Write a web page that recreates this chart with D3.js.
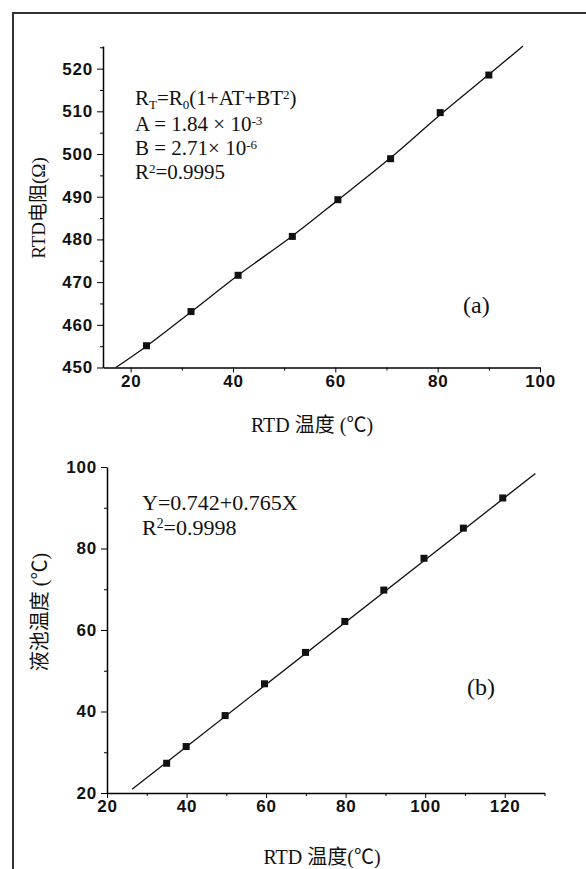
<!DOCTYPE html>
<html>
<head>
<meta charset="utf-8">
<script src="https://cdn.jsdelivr.net/npm/d3@7"></script>
<style>
  body { margin: 0; background: #fff; }
  .tickLbl text { font-family: "Liberation Sans", Arial, sans-serif; font-weight: bold; font-size: 17px; letter-spacing: 0.8px; fill: #111; }
  .serif { font-family: "Liberation Serif", "Times New Roman", "Noto Sans CJK SC", serif; fill: #111; }
</style>
</head>
<body>
<div id="chart"></div>
<script>

// ---- chart (a): RTD resistance vs RTD temperature
var rtdTempA = [23.1, 31.8, 41.0, 51.6, 60.5, 70.8, 80.5, 90.0];
var rtdResA  = [455.1, 463.1, 471.6, 480.7, 489.3, 498.9, 509.7, 518.5];
// fitted curve (slightly bent, quadratic fit)
var fitTempA = [17.1, 23.1, 31.8, 41.0, 51.6, 60.5, 70.8, 80.5, 90.0, 96.7];
var fitResA  = [450, 455.0, 463.0, 471.6, 480.8, 489.2, 499.1, 509.2, 518.6, 525.3];
var xTicksA = [20, 40, 60, 80, 100];
var yTicksA = [450, 460, 470, 480, 490, 500, 510, 520];

// ---- chart (b): bath temperature vs RTD temperature
var rtdTempB  = [35.0, 39.9, 49.7, 59.6, 69.9, 79.8, 89.6, 99.7, 109.6, 119.5];
var bathTempB = [27.3, 31.4, 39.0, 46.8, 54.5, 62.1, 69.8, 77.6, 85.0, 92.4];
var fitTempB  = [26.3, 127.7];
var fitBathB  = [20.9, 98.4];
var xTicksB = [20, 40, 60, 80, 100, 120];
var yTicksB = [20, 40, 60, 80, 100];

var svgWidth = 586;
var svgHeight = 869;

var svg = d3.select("#chart")
    .append("svg")
    .attr("width", svgWidth)
    .attr("height", svgHeight);

// scanned page frame
svg.append("path")
    .attr("d", "M13,875 L13,13 L590,13")
    .attr("fill", "none")
    .attr("stroke", "#333")
    .attr("stroke-width", 2);

// text with sub / superscripts, segs = [[text, "sub"|"sup"|null], ...]
function richText(x, y, segs, size) {
    var t = svg.append("text")
        .attr("class", "serif")
        .attr("x", x)
        .attr("y", y)
        .attr("font-size", size + "px");
    var shift = 0;
    segs.forEach(function(s) {
        var target = s[1] == "sub" ? size * 0.2 : (s[1] == "sup" ? -size * 0.3 : 0);
        t.append("tspan")
            .attr("dy", target - shift)
            .attr("font-size", s[1] ? (size * 0.62) + "px" : size + "px")
            .text(s[0]);
        shift = target;
    });
    return t;
}

function makePlot(xdata, ydata, fitX, fitY, xDom, yDom, xRange, yRange, xTicks, yTicks, xMinor, yMinor) {

    var xScale = d3.scaleLinear().domain(xDom).range(xRange);
    var yScale = d3.scaleLinear().domain(yDom).range(yRange);

    // minor ticks first (no labels)
    svg.append("g")
        .attr("transform", `translate(0, ${yRange[0]})`)
        .call(d3.axisBottom(xScale).tickValues(xMinor).tickSize(3).tickFormat(""))
        .call(g => g.select(".domain").remove());
    svg.append("g")
        .attr("transform", `translate(${xRange[0]}, 0)`)
        .call(d3.axisLeft(yScale).tickValues(yMinor).tickSize(3).tickFormat(""))
        .call(g => g.select(".domain").remove());

    // main axes
    svg.append("g")
        .attr("class", "tickLbl")
        .attr("transform", `translate(0, ${yRange[0]})`)
        .call(d3.axisBottom(xScale).tickValues(xTicks).tickSize(5).tickSizeOuter(0).tickPadding(2));
    svg.append("g")
        .attr("class", "tickLbl")
        .attr("transform", `translate(${xRange[0]}, 0)`)
        .call(d3.axisLeft(yScale).tickValues(yTicks).tickSize(6).tickSizeOuter(0).tickPadding(4));

    svg.selectAll(".domain").attr("stroke-width", 1.5);

    // fitted line
    var line = d3.line()
        .curve(d3.curveMonotoneX)
        .x(d => xScale(d[0]))
        .y(d => yScale(d[1]));
    svg.append("path")
        .datum(fitX.map((v, i) => [v, fitY[i]]))
        .attr("d", line)
        .attr("fill", "none")
        .attr("stroke", "#111")
        .attr("stroke-width", 1.3);

    // data points
    svg.append("g").selectAll("rect")
        .data(xdata.map((v, i) => [v, ydata[i]]))
        .enter().append("rect")
        .attr("x", d => xScale(d[0]) - 3.5)
        .attr("y", d => yScale(d[1]) - 3.5)
        .attr("width", 7)
        .attr("height", 7)
        .attr("fill", "#111");
}

// chart (a)
makePlot(rtdTempA, rtdResA, fitTempA, fitResA,
    [14.6, 100], [450, 525.3], [103, 540], [367.5, 46],
    xTicksA, yTicksA, [30, 50, 70, 90], [455, 465, 475, 485, 495, 505, 515, 525]);

// chart (b)
makePlot(rtdTempB, bathTempB, fitTempB, fitBathB,
    [20, 130], [20, 100], [107, 544.5], [793, 467],
    xTicksB, yTicksB, [30, 50, 70, 90, 110, 130], [30, 50, 70, 90]);

// equations
richText(135, 105, [["R", null], ["T", "sub"], ["=R", null], ["0", "sub"], ["(1+AT+BT", null], ["2", "sup"], [")", null]], 21);
richText(135, 131, [["A = 1.84 \u00d7 10", null], ["-3", "sup"]], 21);
richText(135, 155, [["B = 2.71\u00d7 10", null], ["-6", "sup"]], 21);
richText(135, 179, [["R", null], ["2", "sup"], ["=0.9995", null]], 21);

richText(142, 510, [["Y=0.742+0.765X", null]], 22);
richText(142, 535, [["R", null], ["2", "sup"], ["=0.9998", null]], 22);

richText(463, 313, [["(a)", null]], 24);
richText(467, 695, [["(b)", null]], 24);

// axis titles
svg.append("text")
    .attr("class", "serif")
    .attr("x", 312).attr("y", 432)
    .attr("text-anchor", "middle")
    .attr("font-size", "20px")
    .text("RTD 温度 (℃)");

svg.append("text")
    .attr("class", "serif")
    .attr("x", 322).attr("y", 864)
    .attr("text-anchor", "middle")
    .attr("font-size", "20px")
    .text("RTD 温度(℃)");

svg.append("text")
    .attr("class", "serif")
    .attr("transform", "translate(38, 208) rotate(-90)")
    .attr("text-anchor", "middle")
    .attr("dominant-baseline", "central")
    .attr("font-size", "19px")
    .text("RTD电阻(Ω)");

svg.append("text")
    .attr("class", "serif")
    .attr("transform", "translate(40, 612) rotate(-90)")
    .attr("text-anchor", "middle")
    .attr("dominant-baseline", "central")
    .attr("font-size", "20px")
    .text("液池温度 (℃)");

</script>
</body>
</html>
